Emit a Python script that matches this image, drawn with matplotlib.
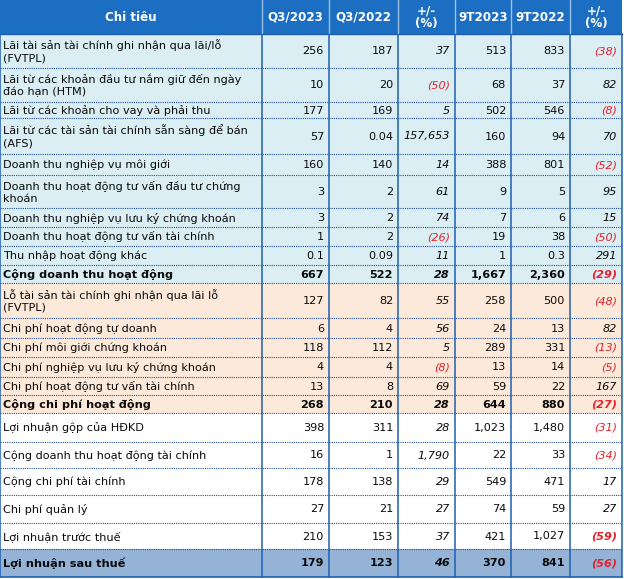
import matplotlib.pyplot as plt
from matplotlib.patches import Rectangle

# table content
labels = [
    "Lãi tài sản tài chính ghi nhận qua lãi/lỗ\n(FVTPL)",
    "Lãi từ các khoản đầu tư nắm giữ đến ngày\nđáo hạn (HTM)",
    "Lãi từ các khoản cho vay và phải thu",
    "Lãi từ các tài sản tài chính sẵn sàng để bán\n(AFS)",
    "Doanh thu nghiệp vụ môi giới",
    "Doanh thu hoạt động tư vấn đầu tư chứng\nkhoán",
    "Doanh thu nghiệp vụ lưu ký chứng khoán",
    "Doanh thu hoạt động tư vấn tài chính",
    "Thu nhập hoạt động khác",
    "Cộng doanh thu hoạt động",
    "Lỗ tài sản tài chính ghi nhận qua lãi lỗ\n(FVTPL)",
    "Chi phí hoạt động tự doanh",
    "Chi phí môi giới chứng khoán",
    "Chi phí nghiệp vụ lưu ký chứng khoán",
    "Chi phí hoạt động tư vấn tài chính",
    "Cộng chi phí hoạt động",
    "Lợi nhuận gộp của HĐKD",
    "Cộng doanh thu hoạt động tài chính",
    "Cộng chi phí tài chính",
    "Chi phí quản lý",
    "Lợi nhuận trước thuế",
    "Lợi nhuận sau thuế",
]
headers = ["Chi tiêu", "Q3/2023", "Q3/2022", "+/-\n(%)", "9T2023", "9T2022", "+/-\n(%)"]
q3_2023 = [256, 10, 177, 57, 160, 3, 3, 1, 0.1, 667, 127, 6, 118, 4, 13, 268, 398, 16, 178, 27, 210, 179]
q3_2022 = [187, 20, 169, 0.04, 140, 2, 2, 2, 0.09, 522, 82, 4, 112, 4, 8, 210, 311, 1, 138, 21, 153, 123]
chg_q3 = [37, -50, 5, 157653, 14, 61, 74, -26, 11, 28, 55, 56, 5, -8, 69, 28, 28, 1790, 29, 27, 37, 46]
t9_2023 = [513, 68, 502, 160, 388, 9, 7, 19, 1, 1667, 258, 24, 289, 13, 59, 644, 1023, 22, 549, 74, 421, 370]
t9_2022 = [833, 37, 546, 94, 801, 5, 6, 38, 0.3, 2360, 500, 13, 331, 14, 22, 880, 1480, 33, 471, 59, 1027, 841]
chg_9t = [-38, 82, -8, 70, -52, 95, 15, -50, 291, -29, -48, 82, -13, -5, 167, -27, -31, -34, 17, 27, -59, -56]

bold_rows = {9, 15, 21}

# layout (pixels)
W, H = 624, 579
col_x = [0, 262, 329, 398, 455, 511, 570, 622]
row_y = [0, 34, 68, 102, 118, 154, 175, 208, 227, 246, 265, 283, 318, 338, 357, 377, 395, 413,
         442, 468, 495, 523, 549, 577]

def fmt(v):
    if v < 0:
        return "(" + fmt(-v) + ")"
    if v < 1:
        return f"{v:g}"
    return f"{v:,.0f}"

def row_color(i):
    if i <= 9:
        return "#DAEEF3"
    if i <= 15:
        return "#FDE9D9"
    if i == 21:
        return "#95B3D7"
    return "white"

fig = plt.figure(figsize=(W / 100, H / 100), dpi=100)
ax = fig.add_axes([0, 0, 1, 1])
ax.set_xlim(0, W)
ax.set_ylim(H, 0)
ax.axis("off")

fs = 8.1
font = "DejaVu Sans"
ink = "#0A0A0A"
red = "#E2242F"

# header
ax.add_patch(Rectangle((0, 0), col_x[-1], row_y[1], color="#1B6EC2", lw=0))
for j, h in enumerate(headers):
    cx = (col_x[j] + col_x[j + 1]) / 2
    ax.text(cx, row_y[1] / 2 + 0.5, h, ha="center", va="center", color="white",
            fontsize=8.6, fontweight="bold", family=font, linespacing=1.0)

cols = [q3_2023, q3_2022, chg_q3, t9_2023, t9_2022, chg_9t]
for i, lab in enumerate(labels):
    y0, y1 = row_y[i + 1], row_y[i + 2]
    ym = (y0 + y1) / 2
    ax.add_patch(Rectangle((0, y0), col_x[-1], y1 - y0, color=row_color(i), lw=0))
    bold = i in bold_rows
    ax.text(3, ym + 0.5, lab, ha="left", va="center", fontsize=fs, family=font,
            fontweight="bold" if bold else "normal", linespacing=1.25, color=ink)
    for j, col in enumerate(cols):
        v = col[i]
        pct = j in (2, 5)
        color = red if (pct and v < 0) else ink
        weight = "bold" if (bold or (i == 20 and j == 5)) else "normal"
        ax.text(col_x[j + 2] - 5, ym + 0.5, fmt(v), ha="right", va="center", fontsize=fs,
                family=font, fontweight=weight, style="italic" if pct else "normal",
                color=color)
    if i < len(labels) - 1:
        ax.plot([0, col_x[-1]], [y1, y1], color="#1F4E9A", lw=0.8, ls=(0, (1, 1)))

# vertical lines
for j, x in enumerate(col_x):
    ax.plot([x, x], [row_y[1], row_y[-1]], color="#1F5FAF", lw=1.1)
    if 0 < j < len(col_x) - 1:
        ax.plot([x, x], [0, row_y[1]], color="#9CC3EA", lw=1.0)
ax.plot([0, col_x[-1]], [row_y[-1], row_y[-1]], color="#1F5FAF", lw=1.2)
ax.plot([0, col_x[-1]], [row_y[1], row_y[1]], color="#1F5FAF", lw=1.0)

fig.savefig("out.png", dpi=100)
